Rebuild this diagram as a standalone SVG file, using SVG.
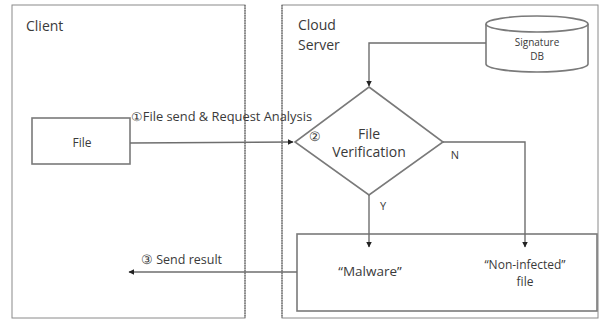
<svg xmlns="http://www.w3.org/2000/svg" width="602" height="321" viewBox="0 0 602 321">
  <style>
    .frame { fill: #ffffff; stroke: #8a8a8a; stroke-width: 1; }
    .side { fill: none; stroke: #555555; stroke-width: 1; stroke-dasharray: 1.5 1; }
    .shape { fill: #ffffff; stroke: #7a7a7a; stroke-width: 1.6; }
    .wire { fill: none; stroke: #6e6e6e; stroke-width: 1.4; }
    .txt { font-family: "Open Sans", "Noto Sans", "Liberation Sans", sans-serif; fill: #3a3a3a; }
  </style>
  <defs>
    <marker id="tip" viewBox="0 0 10 10" refX="9" refY="5" markerWidth="4" markerHeight="4" orient="auto-start-reverse" markerUnits="strokeWidth">
      <path d="M0,0 L10,5 L0,10 Z" fill="#222222"/>
    </marker>
  </defs>
  <rect width="602" height="321" fill="#ffffff"/>

  <!-- swimlanes -->
  <g id="client-lane">
    <rect class="frame" x="12" y="5" width="233" height="313"/>
    <line class="side" x1="245" y1="5" x2="245" y2="318"/>
    <text class="txt" x="26" y="31" font-size="14">Client</text>
  </g>
  <g id="server-lane">
    <rect class="frame" x="282" y="5" width="316" height="313"/>
    <line class="side" x1="282" y1="5" x2="282" y2="318"/>
    <text class="txt" x="298" y="30" font-size="14">Cloud</text>
    <text class="txt" x="298" y="50" font-size="14">Server</text>
  </g>

  <!-- nodes -->
  <g id="file">
    <rect class="shape" x="32" y="118" width="98" height="46"/>
    <text class="txt" x="82" y="147" font-size="12" text-anchor="middle">File</text>
  </g>
  <g id="signature-db">
    <path class="shape" d="M486,24 L486,64 A51,8 0 0 0 588,64 L588,24"/>
    <ellipse class="shape" cx="537" cy="24" rx="51" ry="8"/>
    <text class="txt" x="537" y="46" font-size="10" text-anchor="middle">Signature</text>
    <text class="txt" x="537" y="60" font-size="10" text-anchor="middle">DB</text>
  </g>
  <g id="verification">
    <polygon class="shape" points="369,87 443,142 369,195 295,142"/>
    <text class="txt" x="315" y="141" font-size="13" text-anchor="middle">②</text>
    <text class="txt" x="369" y="139" font-size="14" text-anchor="middle">File</text>
    <text class="txt" x="369" y="157" font-size="14" text-anchor="middle">Verification</text>
  </g>
  <g id="result">
    <rect class="shape" x="297" y="234" width="300" height="77"/>
    <text class="txt" x="370" y="276" font-size="13.5" text-anchor="middle">“Malware”</text>
    <text class="txt" x="525" y="269" font-size="12" text-anchor="middle">“Non-infected”</text>
    <text class="txt" x="525" y="286" font-size="12" text-anchor="middle">file</text>
  </g>

  <!-- connectors -->
  <g id="connectors">
    <path class="wire" d="M130,143 L293,142" marker-end="url(#tip)"/>
    <path class="wire" d="M486,43 L369,43 L369,86" marker-end="url(#tip)"/>
    <path class="wire" d="M369,195 L369,247" marker-end="url(#tip)"/>
    <path class="wire" d="M443,142 L525,142 L525,247" marker-end="url(#tip)"/>
    <path class="wire" d="M297,272 L129,272" marker-end="url(#tip)"/>
    <text class="txt" x="131" y="121" font-size="12" textLength="181" lengthAdjust="spacingAndGlyphs">①File send &amp; Request Analysis</text>
    <text class="txt" x="383" y="210" font-size="11" text-anchor="middle">Y</text>
    <text class="txt" x="455" y="159" font-size="11" text-anchor="middle">N</text>
    <text class="txt" x="141" y="264" font-size="12.5">③ Send result</text>
  </g>
</svg>
